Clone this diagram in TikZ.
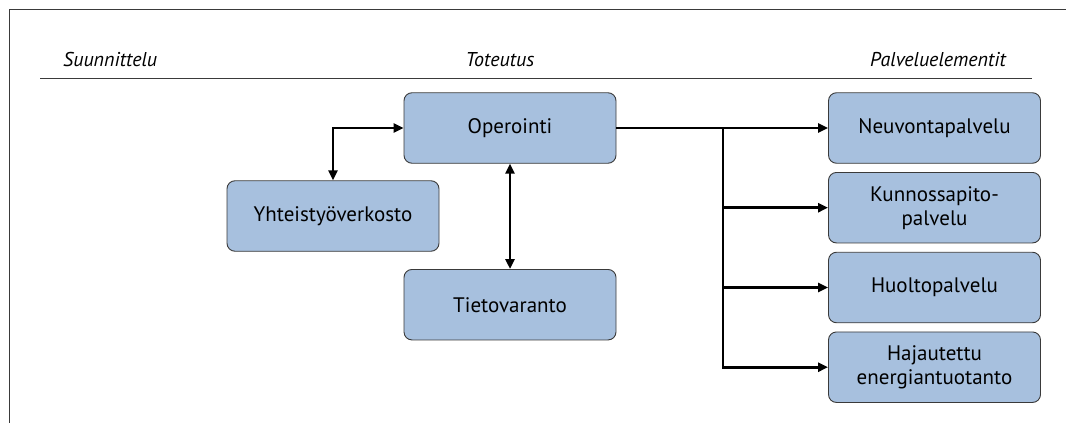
\documentclass[tikz,border=0pt]{standalone}
\usepackage{fontspec}
\setmainfont{PT Sans}
\usetikzlibrary{arrows.meta}
\definecolor{boxfill}{HTML}{A7C0DE}
\definecolor{boxline}{HTML}{3A3A3A}
\tikzset{
  box/.style={draw=boxline, line width=0.9pt, fill=boxfill, rounded corners=8pt,
    minimum width=212pt, minimum height=70.5pt, inner sep=0pt, align=center,
    font=\fontsize{21pt}{24pt}\selectfont, text=black},
  hdr/.style={font=\fontsize{20pt}{23pt}\selectfont\itshape, inner sep=0pt, text=black},
  conn/.style={line width=2.8pt, -{Triangle[length=10pt,width=9pt]}},
  conn2/.style={line width=2.8pt, {Triangle[length=10pt,width=9pt]}-{Triangle[length=10pt,width=9pt]}},
  frame/.style={line width=1pt, draw=boxline}
}
\begin{document}
\begin{tikzpicture}[x=1pt,y=-1pt]
\useasboundingbox (0,0) rectangle (1066,423);
% frame (only top and left edge visible)
\draw[frame] (9,423) -- (9,9) -- (1066,9);
% headers
\node[hdr, anchor=base west] (h1) at (63,66) {Suunnittelu};
\node[hdr, anchor=base] (h2) at (500,66) {Toteutus};
\node[hdr, anchor=base east] (h3) at (1006,66) {Palveluelementit};
\draw[line width=1pt, draw=boxline] (40,78) -- (1032,78);
% boxes
\node[box] (oper) at (510,128) {Operointi};
\node[box] (yht) at (333,216) {Yhteistyöverkosto};
\node[box] (tieto) at (510,304.7) {Tietovaranto};
\node[box] (neu) at (934.5,128) {Neuvontapalvelu};
\node[box] (kun) at (934.5,207.7) {Kunnossapito-\\palvelu};
\node[box] (huo) at (934.5,287.5) {Huoltopalvelu};
\node[box] (haj) at (934.5,367.2) {Hajautettu\\energiantuotanto};
% connectors
\draw[conn2] (oper.west) -| (yht.north);
\draw[conn2] (oper.south) -- (tieto.north);
\coordinate (j) at (723,128);
\draw[conn] (oper.east) -- (neu.west);
\draw[line width=2.8pt] (j) -- (723,367.2);
\draw[conn] (j) |- (kun.west);
\draw[conn] (j) |- (huo.west);
\draw[conn] (j) |- (haj.west);
\end{tikzpicture}
\end{document}
